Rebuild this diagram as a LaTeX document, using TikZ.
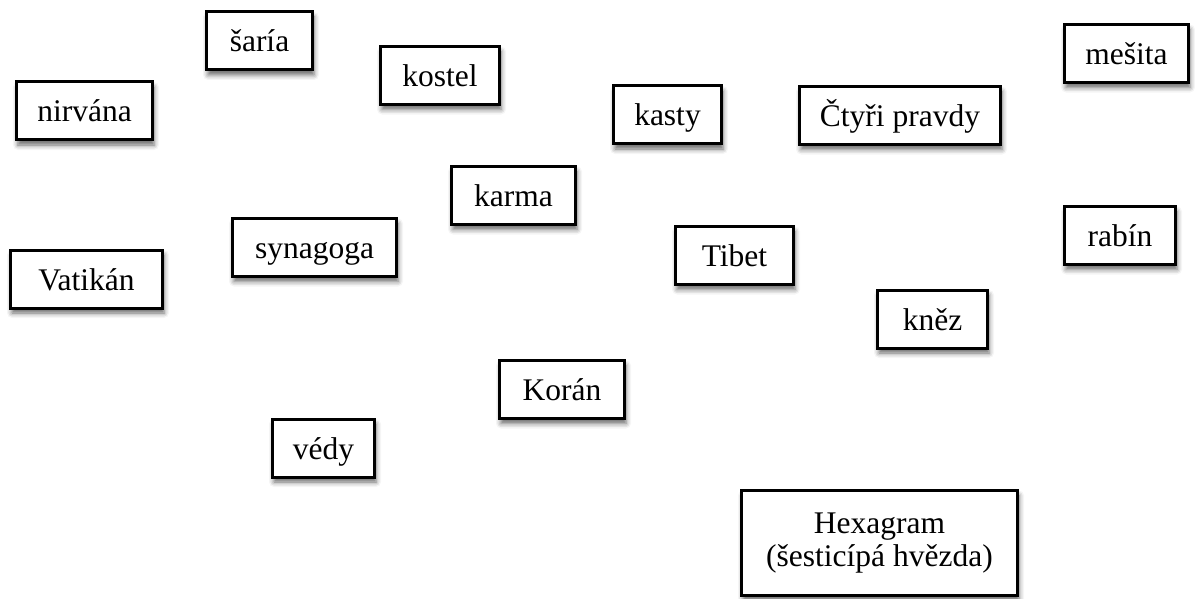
\documentclass[tikz,border=0pt]{standalone}
\usepackage{fontspec}
\setmainfont{Liberation Serif}
\usetikzlibrary{shadows.blur}
\begin{document}
\begin{tikzpicture}[x=1pt, y=-1pt,
  pojem/.style={draw=black, line width=3pt, fill=white, rectangle,
    font=\fontsize{31.5}{33}\selectfont, minimum height=58pt,
    text height=22pt, text depth=0pt, inner sep=0pt,
    blur shadow={shadow xshift=1.5pt, shadow yshift=-5pt, shadow blur radius=5pt, shadow opacity=60}}]
\useasboundingbox (0,0) rectangle (1195,599);
\node [pojem, minimum width=106pt] (saria) at (259.5,41) {šaría};
\node [pojem, minimum width=119pt] (kostel) at (440,75.5) {kostel};
\node [pojem, minimum width=136pt] (nirvana) at (84.5,111) {nirvána};
\node [pojem, minimum width=108pt] (kasty) at (667.5,115) {kasty};
\node [pojem, minimum width=201pt] (pravdy) at (900,115.5) {Čtyři pravdy};
\node [pojem, minimum width=124pt] (mesita) at (1126.5,53.5) {mešita};
\node [pojem, minimum width=124pt] (karma) at (513.5,195.5) {karma};
\node [pojem, minimum width=164pt] (synagoga) at (314.5,247.5) {synagoga};
\node [pojem, minimum width=118pt] (tibet) at (734.5,255.5) {Tibet};
\node [pojem, minimum width=111pt] (rabin) at (1120,235.5) {rabín};
\node [pojem, minimum width=152pt] (vatikan) at (86.5,279) {Vatikán};
\node [pojem, minimum width=110pt] (knez) at (932.5,319) {kněz};
\node [pojem, minimum width=125pt] (koran) at (562,389.5) {Korán};
\node [pojem, minimum width=102pt] (vedy) at (323.5,448) {védy};
\node [pojem, minimum width=276pt, minimum height=105pt,
  text height=, text depth=, align=center] (hexagram) at (879.5,543)
  {Hexagram\\(šesticípá hvězda)};
\end{tikzpicture}
\end{document}
